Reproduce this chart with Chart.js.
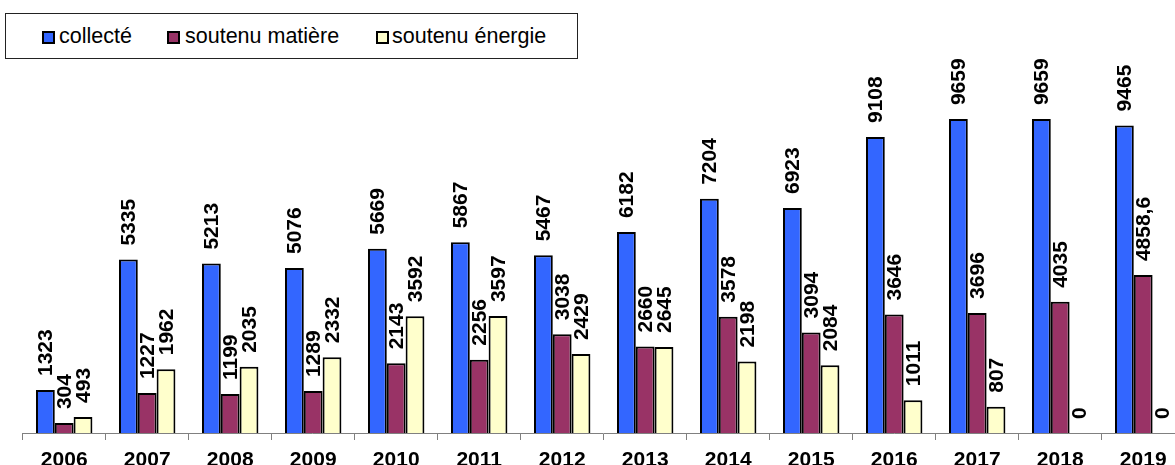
<!DOCTYPE html>
<html>
<head>
<meta charset="utf-8">
<script src="https://cdn.jsdelivr.net/npm/chart.js@4.4.0/dist/chart.umd.min.js"></script>
<style>
  html, body { margin: 0; padding: 0; background: #fff; overflow: hidden; }
  #wrap { position: relative; width: 1175px; height: 465px; overflow: hidden; }
  #c { position: absolute; left: 0; top: 0; }
  #legendBox { position: absolute; left: 5px; top: 13px; width: 571px; height: 44px;
               border: 1px solid #222; background: #fff; }
  .item { position: absolute; top: 26px; line-height: 1; white-space: nowrap; color: #000;
          font-family: Arial, "Liberation Sans", sans-serif; font-size: 21.5px; }
  .sw { position: absolute; top: 31px; width: 9px; height: 9px; border: 2px solid #000; }
</style>
</head>
<body>
<div id="wrap">
  <canvas id="c" width="1200" height="465"></canvas>
  <div id="legendBox"></div>
</div>
<script>
const categories = ['2006','2007','2008','2009','2010','2011','2012','2013','2014','2015','2016','2017','2018','2019'];
const collecte = [1323, 5335, 5213, 5076, 5669, 5867, 5467, 6182, 7204, 6923, 9108, 9659, 9659, 9465];
const soutenuMatiere = [304, 1227, 1199, 1289, 2143, 2256, 3038, 2660, 3578, 3094, 3646, 3696, 4035, 4858.6];
const soutenuEnergie = [493, 1962, 2035, 2332, 3592, 3597, 2429, 2645, 2198, 2084, 1011, 807, 0, 0];
const seriesNames = ['collecté', 'soutenu matière', 'soutenu énergie'];
const seriesColors = ['#3366FF', '#993366', '#FFFFCC'];

// HTML legend
const legendPos = [{sw: 42, tx: 59}, {sw: 167, tx: 185}, {sw: 376, tx: 392}];
const wrap = document.getElementById('wrap');
seriesNames.forEach((n, i) => {
  const s = document.createElement('div');
  s.className = 'sw';
  s.style.left = legendPos[i].sw + 'px';
  s.style.background = seriesColors[i];
  wrap.appendChild(s);
  const t = document.createElement('div');
  t.className = 'item';
  t.style.left = legendPos[i].tx + 'px';
  t.textContent = n;
  wrap.appendChild(t);
});

const labelPlugin = {
  id: 'vlabels',
  afterDatasetsDraw(chart) {
    const ctx = chart.ctx;
    ctx.save();
    ctx.font = 'bold 21px Arial, "Liberation Sans", sans-serif';
    ctx.fillStyle = '#000';
    ctx.textAlign = 'left';
    ctx.textBaseline = 'middle';
    chart.data.datasets.forEach((ds, di) => {
      const meta = chart.getDatasetMeta(di);
      meta.data.forEach((el, i) => {
        const v = ds.data[i];
        const txt = String(v).replace('.', ',');
        ctx.save();
        ctx.translate(el.x + 1, el.y - 14);
        ctx.rotate(-Math.PI / 2);
        ctx.fillText(txt, 0, 0);
        ctx.restore();
      });
    });
    ctx.restore();
  }
};

new Chart(document.getElementById('c'), {
  type: 'bar',
  data: {
    labels: categories,
    datasets: [collecte, soutenuMatiere, soutenuEnergie].map((d, i) => ({
      label: seriesNames[i],
      data: d,
      backgroundColor: seriesColors[i],
      borderColor: '#000',
      borderWidth: 2,
      borderSkipped: 'bottom',
      barPercentage: 1,
      categoryPercentage: 0.68
    }))
  },
  options: {
    responsive: false,
    animation: false,
    events: [],
    layout: { padding: { left: 22.7, right: 15.3, top: 108, bottom: 0 } },
    plugins: { legend: { display: false }, tooltip: { enabled: false } },
    scales: {
      x: {
        offset: true,
        grid: { drawOnChartArea: false, drawTicks: true, tickLength: 7, color: '#808080', offset: true },
        border: { display: true, color: '#808080', width: 1 },
        ticks: { color: '#000', font: { family: 'Arial, "Liberation Sans", sans-serif', size: 21, weight: 'bold' }, padding: 8, maxRotation: 0, autoSkip: false },
        afterFit: (scale) => { scale.height = 32; }
      },
      y: {
        display: false,
        min: 0,
        max: 10000
      }
    }
  },
  plugins: [labelPlugin]
});
</script>
</body>
</html>
